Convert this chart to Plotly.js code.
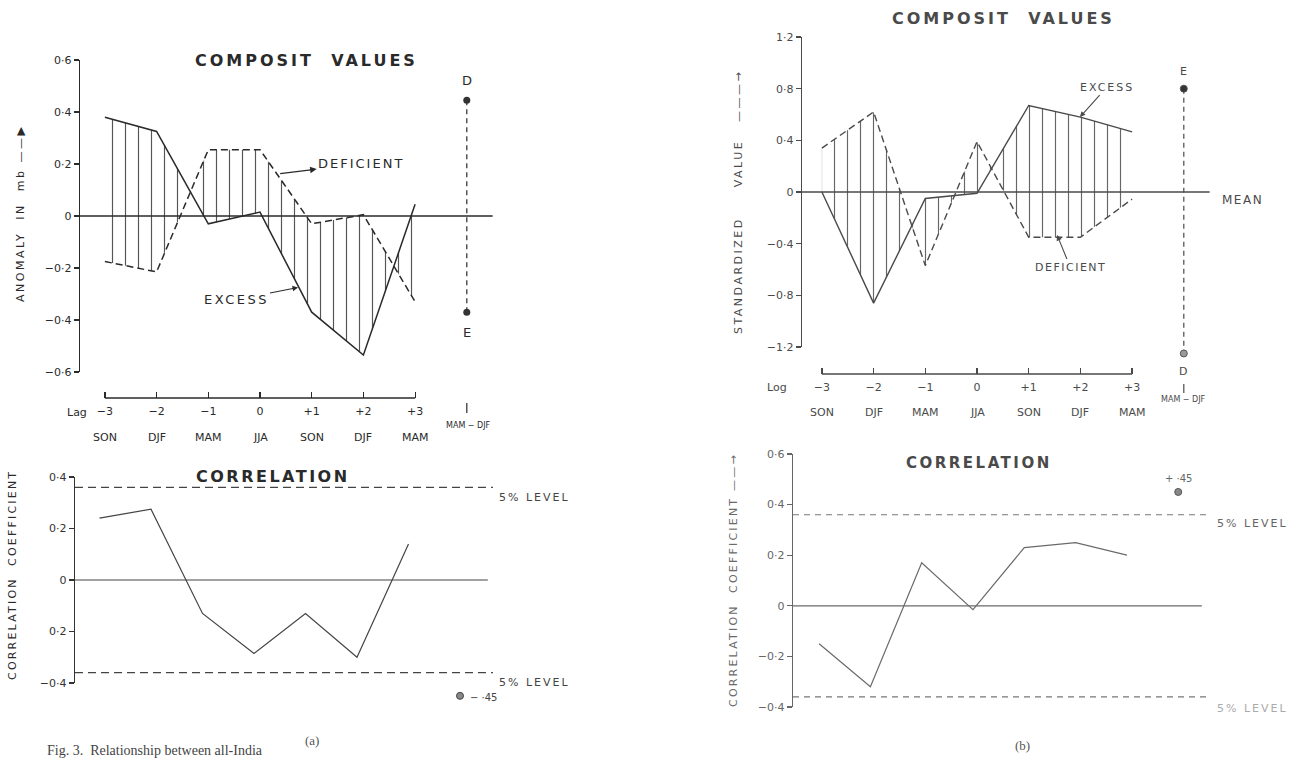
<!DOCTYPE html>
<html><head><meta charset="utf-8">
<script src="https://cdn.plot.ly/plotly-3.0.1.min.js"></script>
<style>html,body{margin:0;padding:0;background:#fff}#chart{width:1306px;height:758px}</style>
</head><body><div id="chart"></div>
<script>
// ---------- data ----------
const lags = [-3, -2, -1, 0, 1, 2, 3];
const lagLabels = ['−3', '−2', '−1', '0', '+1', '+2', '+3'];
const seasons = ['SON', 'DJF', 'MAM', 'JJA', 'SON', 'DJF', 'MAM'];
const diffX = 4;                      // MAM − DJF column
const diffLabel = 'MAM − DJF';

// panel (a) composite anomaly (mb)
const aExcess    = [0.38, 0.325, -0.03, 0.015, -0.37, -0.535, 0.045];
const aDeficient = [-0.175, -0.215, 0.255, 0.255, -0.03, 0.005, -0.33];
const aDiffVals  = [0.445, -0.37];    // D, E
const aDiffNames = ['D', 'E'];
// panel (a) correlation
const aCorr      = [0.24, 0.275, -0.13, -0.285, -0.13, -0.30, 0.14];
const aCorrDiff  = -0.45;
const aCorrDiffLabel = '− ·45';
const aLevel     = 0.36;

// panel (b) standardized composite
const bExcess    = [0.0, -0.86, -0.05, -0.01, 0.67, 0.58, 0.465];
const bDeficient = [0.34, 0.62, -0.57, 0.39, -0.35, -0.35, -0.055];
const bDiffVals  = [0.8, -1.25];      // E, D
const bDiffNames = ['E', 'D'];
// panel (b) correlation
const bCorr      = [-0.15, -0.32, 0.17, -0.015, 0.23, 0.25, 0.20];
const bCorrDiff  = 0.45;
const bCorrDiffLabel = '+ ·45';
const bLevel     = 0.36;

// tick labels
const aTopTicks = [0.6, 0.4, 0.2, 0, -0.2, -0.4, -0.6];
const aTopText  = ['0·6', '0·4', '0·2', '0', '−0·2', '−0·4', '−0·6'];
const bTopTicks = [1.2, 0.8, 0.4, 0, -0.4, -0.8, -1.2];
const bTopText  = ['1·2', '0·8', '0·4', '0', '−0·4', '−0·8', '−1·2'];
const aBotTicks = [0.4, 0.2, 0, -0.2, -0.4];
const aBotText  = ['0·4', '0·2', '0', '0·2', '−0·4'];
const bBotTicks = [0.6, 0.4, 0.2, 0, -0.2, -0.4];
const bBotText  = ['0·6', '0·4', '0·2', '0', '−0·2', '−0·4'];

// ---------- layout helpers ----------
const W = 1306, H = 758;
const px = v => v / W;
const py = v => 1 - v / H;
const FONT = 'DejaVu Sans, Verdana, sans-serif';
const sp = (t, s) => '<span style="letter-spacing:' + s + 'px">' + t + '</span>';

function xRange(l, r, zero, per) { return [(l - zero) / per, (r - zero) / per]; }
const TL = {l: 80, r: 500, zero: 260, per: 51.7, t: 60, b: 372};
const TR = {l: 802, r: 1230, zero: 977, per: 51.7, t: 37, b: 347};
const BL = {l: 75, r: 500, zero: 254, per: 51.5, t: 477, b: 683};
const BR = {l: 793, r: 1230, zero: 973, per: 51.3, t: 454, b: 707};
const rTL = xRange(TL.l, TL.r, TL.zero, TL.per);
const rTR = xRange(TR.l, TR.r, TR.zero, TR.per);
const rBL = xRange(BL.l, BL.r, BL.zero, BL.per);
const rBR = xRange(BR.l, BR.r, BR.zero, BR.per);
const yTR = [-1.2, 1.2], yBL = [-0.4, 0.4];

const cA = '#2a2a2a', cB = '#4a4a4a', cBb = '#6a6a6a';

function hatch(col) {
  return {shape: '|', size: 13, solidity: 0.09, fgcolor: col, bgcolor: 'rgba(255,255,255,0)', fillmode: 'replace'};
}

const traces = [
  // TL
  {x: lags, y: aExcess, xaxis: 'x', yaxis: 'y', mode: 'lines', line: {color: cA, width: 1.5}, hoverinfo: 'skip'},
  {x: lags, y: aDeficient, xaxis: 'x', yaxis: 'y', mode: 'lines', line: {color: cA, width: 1.5, dash: '7px,4px'},
   fill: 'tonexty', fillcolor: 'rgba(0,0,0,0)', fillpattern: hatch('#555'), hoverinfo: 'skip'},
  {x: [diffX, diffX], y: aDiffVals, xaxis: 'x', yaxis: 'y', mode: 'lines+markers', cliponaxis: false,
   line: {color: cA, width: 1.2, dash: '5px,4px'}, marker: {color: '#333', size: 7}, hoverinfo: 'skip'},
  // TR
  {x: lags, y: bExcess, xaxis: 'x2', yaxis: 'y2', mode: 'lines', line: {color: cB, width: 1.4}, hoverinfo: 'skip'},
  {x: lags, y: bDeficient, xaxis: 'x2', yaxis: 'y2', mode: 'lines', line: {color: cB, width: 1.4, dash: '7px,4px'},
   fill: 'tonexty', fillcolor: 'rgba(0,0,0,0)', fillpattern: hatch('#666'), hoverinfo: 'skip'},
  // TR difference on an extended (hidden) y-axis with identical scale
  {x: [diffX, diffX], y: bDiffVals, xaxis: 'x2', yaxis: 'y5', mode: 'lines+markers', cliponaxis: false,
   line: {color: cB, width: 1.2, dash: '5px,4px'}, marker: {color: ['#333', '#999'], size: 7, line: {color: '#555', width: 1}}, hoverinfo: 'skip'},
  // BL
  {x: lags, y: aCorr, xaxis: 'x3', yaxis: 'y3', mode: 'lines', line: {color: '#444', width: 1.2}, hoverinfo: 'skip'},
  {x: [diffX], y: [aCorrDiff], xaxis: 'x3', yaxis: 'y6', mode: 'markers', cliponaxis: false,
   marker: {color: '#888', size: 7, line: {color: '#444', width: 1}}, hoverinfo: 'skip'},
  // BR
  {x: lags, y: bCorr, xaxis: 'x4', yaxis: 'y4', mode: 'lines', line: {color: cBb, width: 1.2}, hoverinfo: 'skip'},
  {x: [diffX], y: [bCorrDiff], xaxis: 'x4', yaxis: 'y4', mode: 'markers', cliponaxis: false,
   marker: {color: '#888', size: 7, line: {color: '#555', width: 1}}, hoverinfo: 'skip'}
];

function yAx(dom, range, tv, tt, col, anchor) {
  return {domain: [py(dom.b), py(dom.t)], range: range, anchor: anchor, tickvals: tv, ticktext: tt,
    showline: true, linecolor: col, linewidth: 1.3, ticks: 'outside', ticklen: 5, tickcolor: col, tickwidth: 1.2,
    showgrid: false, zeroline: false, fixedrange: true, tickfont: {family: FONT, size: 11, color: col}};
}
// hidden y-axis sharing the scale of `range` over `dom`, extended downward by extraPx
function yExt(dom, range, extraPx, anchor) {
  const perPx = (range[1] - range[0]) / (dom.b - dom.t);
  return {domain: [py(dom.b + extraPx), py(dom.t)], range: [range[0] - extraPx * perPx, range[1]],
    anchor: anchor, visible: false, fixedrange: true};
}
function xTop(dom, range, posPx, col) {
  return {domain: [px(dom.l), px(dom.r)], range: range, anchor: 'free', position: py(posPx),
    tickvals: lags, ticktext: lagLabels, ticks: 'inside', ticklen: 6, tickcolor: col, tickwidth: 1.2,
    ticklabelstandoff: 5,
    showline: false, showgrid: false, zeroline: false, fixedrange: true,
    tickfont: {family: FONT, size: 11, color: col}};
}
function xHidden(dom, range, anchor) {
  return {domain: [px(dom.l), px(dom.r)], range: range, anchor: anchor, showline: false, showgrid: false,
    zeroline: false, ticks: '', showticklabels: false, fixedrange: true};
}

const shapes = [
  // TL x-axis line and MAM-DJF tick
  {type: 'line', xref: 'x', yref: 'paper', x0: -3, x1: 3, y0: py(398), y1: py(398), line: {color: cA, width: 1.3}},
  {type: 'line', xref: 'x', yref: 'paper', x0: diffX, x1: diffX, y0: py(403), y1: py(413), line: {color: cA, width: 1.2}},
  // TR
  {type: 'line', xref: 'x2', yref: 'paper', x0: -3, x1: 3, y0: py(374), y1: py(374), line: {color: cB, width: 1.3}},
  {type: 'line', xref: 'x2', yref: 'paper', x0: diffX, x1: diffX, y0: py(384), y1: py(393), line: {color: cB, width: 1.2}},
  // mean / zero lines
  {type: 'line', xref: 'x', yref: 'y', x0: rTL[0], x1: 4.5, y0: 0, y1: 0, line: {color: cA, width: 1.3}},
  {type: 'line', xref: 'x2', yref: 'y2', x0: rTR[0], x1: 4.5, y0: 0, y1: 0, line: {color: cB, width: 1.4}},
  {type: 'line', xref: 'x3', yref: 'y3', x0: rBL[0], x1: 4.54, y0: 0, y1: 0, line: {color: '#444', width: 1.2}},
  {type: 'line', xref: 'x4', yref: 'y4', x0: rBR[0], x1: 4.46, y0: 0, y1: 0, line: {color: cBb, width: 1.2}},
  // 5% levels
  {type: 'line', xref: 'x3', yref: 'y3', x0: rBL[0], x1: 4.64, y0: aLevel, y1: aLevel, line: {color: '#444', width: 1.2, dash: '8px,5px'}},
  {type: 'line', xref: 'x3', yref: 'y3', x0: rBL[0], x1: 4.64, y0: -aLevel, y1: -aLevel, line: {color: '#444', width: 1.2, dash: '8px,5px'}},
  {type: 'line', xref: 'x4', yref: 'y4', x0: rBR[0], x1: 4.62, y0: bLevel, y1: bLevel, line: {color: '#777', width: 1.1, dash: '6px,5px'}},
  {type: 'line', xref: 'x4', yref: 'y4', x0: rBR[0], x1: 4.62, y0: -bLevel, y1: -bLevel, line: {color: '#777', width: 1.1, dash: '6px,5px'}}
];

function pa(text, x, y, opts) {
  return Object.assign({text: text, xref: 'paper', yref: 'paper', x: px(x), y: py(y), showarrow: false,
    xanchor: 'center', yanchor: 'middle', font: {family: FONT, size: 11, color: cA}}, opts || {});
}

const ann = [
  // titles
  pa(sp('COMPOSIT\u00a0\u00a0VALUES', 3), 306, 61, {font: {family: FONT, size: 16, color: cA, weight: 'bold'}}),
  pa(sp('COMPOSIT\u00a0\u00a0VALUES', 3), 1004, 18, {font: {family: FONT, size: 16, color: cB, weight: 'bold'}}),
  pa(sp('CORRELATION', 2.5), 273, 476, {font: {family: FONT, size: 16, color: cA, weight: 'bold'}}),
  pa(sp('CORRELATION', 2.5), 979, 463, {font: {family: FONT, size: 15, color: cB, weight: 'bold'}}),
  // y-axis titles
  pa(sp('ANOMALY\u00a0\u00a0IN\u00a0\u00a0mb\u00a0——▶', 2.5), 20, 214, {textangle: -90, font: {family: FONT, size: 11, color: cA}}),
  pa(sp('STANDARDIZED\u00a0\u00a0\u00a0\u00a0\u00a0VALUE\u00a0\u00a0\u00a0———→', 2.5), 738, 202, {textangle: -90, font: {family: FONT, size: 11, color: cB}}),
  pa(sp('CORRELATION\u00a0\u00a0COEFFICIENT', 2.2), 12, 575, {textangle: -90, font: {family: FONT, size: 11, color: cA}}),
  pa(sp('CORRELATION\u00a0\u00a0COEFFICIENT\u00a0——→', 2.2), 733, 580, {textangle: -90, font: {family: FONT, size: 11, color: cBb}}),
  // lag words
  pa('Lag', 77, 412, {font: {family: FONT, size: 11, color: cA}}),
  pa('Log', 777, 387, {font: {family: FONT, size: 11, color: cB}}),
  // MAM-DJF labels
  pa(diffLabel, 468, 425, {font: {family: FONT, size: 8, color: cA}}),
  pa(diffLabel, 1183, 399, {font: {family: FONT, size: 8, color: cB}}),
  // MEAN
  pa(sp('MEAN', 1.5), 1242, 200, {font: {family: FONT, size: 12, color: cB}}),
  // 5% level labels
  pa(sp('5% LEVEL', 2), 497, 497, {xanchor: 'left', font: {family: FONT, size: 11, color: '#444'}}),
  pa(sp('5% LEVEL', 2), 497, 682, {xanchor: 'left', font: {family: FONT, size: 11, color: '#444'}}),
  pa(sp('5% LEVEL', 2), 1215, 523, {xanchor: 'left', font: {family: FONT, size: 11, color: '#666'}}),
  pa(sp('5% LEVEL', 2), 1215, 708, {xanchor: 'left', font: {family: FONT, size: 11, color: '#aaa'}}),
  // D label below the axis range in panel (b)
  pa(bDiffNames[1], 1183, 371, {font: {family: FONT, size: 11, color: cB}}),
  // correlation-of-difference label in panel (a)
  pa(aCorrDiffLabel, 468, 697, {xanchor: 'left', font: {family: FONT, size: 10, color: '#444'}}),
  // panel captions
  pa('(a)', 312, 740, {font: {family: 'Liberation Serif, serif', size: 13, color: '#555'}}),
  pa('(b)', 1022, 745, {font: {family: 'Liberation Serif, serif', size: 13, color: '#555'}}),
  pa('Fig. 3.\u00a0\u00a0Relationship between all-India', 45, 750, {xanchor: 'left', font: {family: 'Liberation Serif, serif', size: 14, color: '#444'}})
];

// season labels
lags.forEach((l, i) => {
  ann.push({text: seasons[i], xref: 'x', yref: 'paper', x: l, y: py(437), showarrow: false,
    font: {family: FONT, size: 11, color: cA}});
  ann.push({text: seasons[i], xref: 'x2', yref: 'paper', x: l, y: py(412), showarrow: false,
    font: {family: FONT, size: 11, color: cB}});
});

// D / E labels
ann.push({text: aDiffNames[0], xref: 'x', yref: 'y', x: diffX, y: aDiffVals[0], yshift: 20, showarrow: false, font: {family: FONT, size: 13, color: cA}});
ann.push({text: aDiffNames[1], xref: 'x', yref: 'y', x: diffX, y: aDiffVals[1], yshift: -20, showarrow: false, font: {family: FONT, size: 13, color: cA}});
ann.push({text: bDiffNames[0], xref: 'x2', yref: 'y2', x: diffX, y: bDiffVals[0], yshift: 17, showarrow: false, font: {family: FONT, size: 11, color: cB}});

// correlation of difference label in panel (b)
ann.push({text: bCorrDiffLabel, xref: 'x4', yref: 'y4', x: diffX, y: bCorrDiff, yshift: 13, showarrow: false, font: {family: FONT, size: 10, color: '#666'}});

// curve labels with arrows
ann.push({text: sp('DEFICIENT', 2), xref: 'x', yref: 'y', x: 0.39, y: 0.163, ax: 81, ay: -10,
  showarrow: true, arrowside: 'start', arrowhead: 2, startarrowhead: 2, arrowsize: 1, arrowwidth: 1.3, arrowcolor: cA,
  font: {family: FONT, size: 13, color: cA}});
ann.push({text: sp('EXCESS', 2.5), xref: 'x', yref: 'y', x: 0.735, y: -0.275, ax: -62, ay: 12,
  showarrow: true, arrowhead: 2, arrowsize: 1, arrowwidth: 1.1, arrowcolor: cA,
  font: {family: FONT, size: 13, color: cA}});
ann.push({text: sp('EXCESS', 2), xref: 'x2', yref: 'y2', x: 1.99, y: 0.58, ax: 27, ay: -30,
  showarrow: true, arrowhead: 2, arrowsize: 1, arrowwidth: 1.1, arrowcolor: cB,
  font: {family: FONT, size: 11, color: cB}});
ann.push({text: sp('DEFICIENT', 1.5), xref: 'x2', yref: 'y2', x: 1.55, y: -0.333, ax: 13, ay: 32,
  showarrow: true, arrowhead: 2, arrowsize: 1, arrowwidth: 1.1, arrowcolor: cB,
  font: {family: FONT, size: 11, color: cB}});

const layout = {
  width: W, height: H, margin: {l: 0, r: 0, t: 0, b: 0},
  paper_bgcolor: '#fff', plot_bgcolor: 'rgba(0,0,0,0)', showlegend: false,
  xaxis: xTop(TL, rTL, 398, cA),
  yaxis: yAx(TL, [-0.6, 0.6], aTopTicks, aTopText, cA, 'x'),
  xaxis2: xTop(TR, rTR, 374, cB),
  yaxis2: yAx(TR, yTR, bTopTicks, bTopText, cB, 'x2'),
  xaxis3: xHidden(BL, rBL, 'y3'),
  yaxis3: yAx(BL, yBL, aBotTicks, aBotText, '#333', 'x3'),
  xaxis4: xHidden(BR, rBR, 'y4'),
  yaxis4: yAx(BR, [-0.4, 0.6], bBotTicks, bBotText, '#666', 'x4'),
  yaxis5: yExt(TR, yTR, 40, 'x2'),
  yaxis6: yExt(BL, yBL, 40, 'x3'),
  shapes: shapes,
  annotations: ann
};

Plotly.newPlot('chart', traces, layout, {displayModeBar: false, staticPlot: true});
</script>
</body></html>
